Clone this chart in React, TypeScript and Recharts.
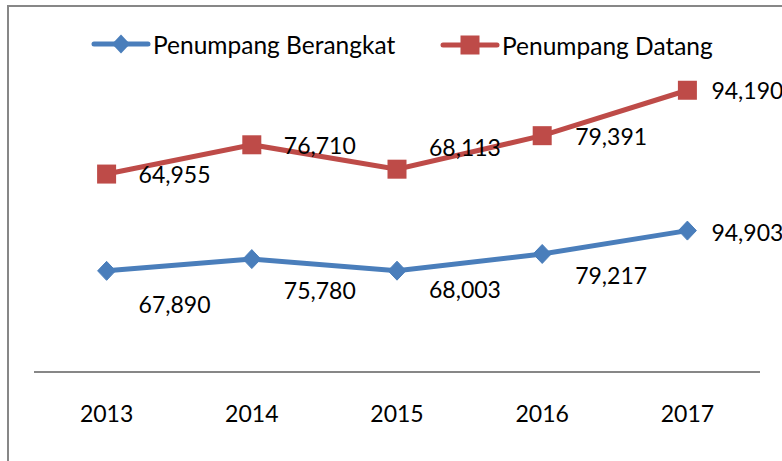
import React from 'react';
import { LineChart, Line, XAxis, YAxis, LabelList, Customized } from 'recharts';

const years = ['2013', '2014', '2015', '2016', '2017'];
const berangkat = [67890, 75780, 68003, 79217, 94903];
const datang = [64955, 76710, 68113, 79391, 94190];
const seriesNames = ['Penumpang Berangkat', 'Penumpang Datang'];

const BLUE = '#4A7EBB';
const RED = '#BE4B48';
const FONT = 'Lato, "Open Sans", sans-serif';
const FS = 23;
const LEGEND_FS = 24.5;

// stacked line chart: the second series sits on top of the first
const data = years.map((y, i) => ({
  year: y,
  berangkat: berangkat[i],
  datang: datang[i],
  datangTop: berangkat[i] + datang[i],
}));

// label placement (style only)
const blueLabelDy = [33, 31, 18, 21, 1];
const redLabelDy = [0, 0, -22, 0, 0];
const labelDx = [32, 32, 32, 33, 24];

const fmt = (v: number) => v.toLocaleString('en-US');

const makeLabel = (dys: number[]) => (props: any) => {
  const { x, y, value, index } = props;
  return (
    <text
      x={x + labelDx[index]}
      y={y + dys[index]}
      dominantBaseline="central"
      textAnchor="start"
      fontFamily={FONT}
      fontSize={FS}
      fill="#000"
    >
      {fmt(Number(value))}
    </text>
  );
};

const Diamond = (props: any) => {
  const { cx, cy, index } = props;
  if (cx == null || cy == null) return <g key={`d${index}`} />;
  const w = 9, h = 9.5;
  return (
    <polygon
      key={`d${index}`}
      points={`${cx},${cy - h} ${cx + w},${cy} ${cx},${cy + h} ${cx - w},${cy}`}
      fill={BLUE}
      stroke={BLUE}
      strokeWidth={1}
    />
  );
};

const Square = (props: any) => {
  const { cx, cy, index } = props;
  if (cx == null || cy == null) return <g key={`s${index}`} />;
  const s = 9.5;
  return <rect key={`s${index}`} x={cx - s} y={cy - s} width={2 * s} height={2 * s} fill={RED} />;
};

const LegendSvg = () => (
  <g fontFamily={FONT} fontSize={LEGEND_FS}>
    <line x1={94} y1={44} x2={148} y2={44} stroke={BLUE} strokeWidth={5} strokeLinecap="round" />
    <polygon points="121,34.5 130,44 121,53.5 112,44" fill={BLUE} />
    <text x={153} y={44} dominantBaseline="central" fill="#000">{seriesNames[0]}</text>
    <line x1={443} y1={45} x2={497} y2={45} stroke={RED} strokeWidth={5} strokeLinecap="round" />
    <rect x={460.5} y={35.5} width={19} height={19} fill={RED} />
    <text x={502} y={45} dominantBaseline="central" fill="#000">{seriesNames[1]}</text>
  </g>
);

export default function App() {
  return (
    <div style={{ position: 'absolute', left: 0, top: 0, width: 782, height: 461, overflow: 'hidden', background: '#fff' }}>
      <div
        style={{
          position: 'absolute',
          left: 7,
          top: 5,
          width: 900,
          height: 600,
          border: '2px solid #878787',
          boxSizing: 'border-box',
        }}
      />
      <div style={{ position: 'absolute', left: 0, top: 0 }}>
        <LineChart
          width={782}
          height={461}
          data={data}
          margin={{ top: 74, right: 22, bottom: 49, left: 34 }}
        >
          <XAxis
            dataKey="year"
            height={40}
            padding={{ left: 72.6, right: 72.6 }}
            axisLine={{ stroke: '#878787', strokeWidth: 2 }}
            tickLine={false}
            tickMargin={28}
            tick={{ fontFamily: FONT, fontSize: FS, fill: '#000' }}
            interval={0}
          />
          <YAxis hide domain={[0, 200000]} />
          <Line
            dataKey="berangkat"
            stroke={BLUE}
            strokeWidth={5}
            dot={Diamond}
            activeDot={false}
            isAnimationActive={false}
          >
            <LabelList dataKey="berangkat" content={makeLabel(blueLabelDy)} />
          </Line>
          <Line
            dataKey="datangTop"
            stroke={RED}
            strokeWidth={5}
            dot={Square}
            activeDot={false}
            isAnimationActive={false}
          >
            <LabelList dataKey="datang" content={makeLabel(redLabelDy)} />
          </Line>
          <Customized component={LegendSvg} />
        </LineChart>
      </div>
    </div>
  );
}
